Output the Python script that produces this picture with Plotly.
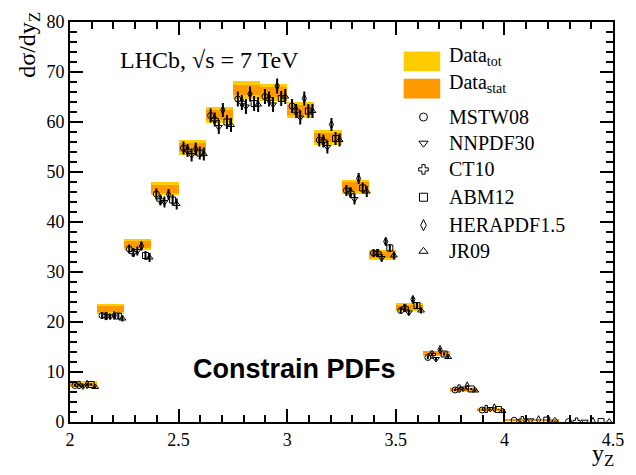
import plotly.graph_objects as go

# Z boson rapidity bins
bin_edges = [2.0, 2.125, 2.25, 2.375, 2.5, 2.625, 2.75, 2.875, 3.0, 3.125,
             3.25, 3.375, 3.5, 3.625, 3.75, 3.875, 4.0, 4.25, 4.5]

# Measured dσ/dy (pb) with statistical and total uncertainties
data_val = [7.6, 22.7, 35.5, 46.7, 55.0, 61.4, 66.4, 66.0, 62.5, 56.9,
            47.1, 33.4, 23.0, 13.8, 6.5, 2.5, 0.40, None]
data_stat = [0.30, 0.60, 0.70, 0.80, 0.90, 1.00, 1.05, 1.00, 1.00, 0.90,
             0.85, 0.65, 0.50, 0.35, 0.25, 0.15, 0.07, None]
data_tot = [0.55, 1.00, 1.10, 1.30, 1.50, 1.65, 1.80, 1.70, 1.60, 1.50,
            1.40, 1.00, 0.80, 0.50, 0.40, 0.25, 0.10, None]

# Theory predictions for several PDF sets
mstw08 = [7.3, 21.3, 34.6, 45.6, 54.8, 61.3, 64.6, 65.1, 63.2, 56.4,
          46.3, 33.8, 22.3, 12.9, 6.4, 2.4, 0.35, 0.08]
ct10 = [7.4, 21.2, 33.9, 44.4, 54.3, 60.5, 63.9, 64.6, 62.2, 56.2,
        45.9, 33.8, 22.8, 13.5, 6.7, 2.6, 0.38, 0.09]
nnpdf30 = [7.1, 21.1, 34.2, 44.0, 53.4, 59.0, 63.1, 63.5, 60.9, 55.0,
           44.6, 32.8, 21.9, 12.6, 6.7, 2.6, 0.33, 0.07]
herapdf15 = [7.5, 21.3, 35.2, 45.5, 54.6, 62.4, 65.6, 67.2, 64.7, 59.5,
             48.7, 36.1, 24.5, 14.5, 7.2, 2.8, 0.42, 0.10]
abm12 = [7.5, 21.2, 33.3, 44.4, 53.8, 60.0, 63.7, 64.7, 62.2, 56.7,
         46.8, 34.8, 23.3, 13.6, 6.6, 2.5, 0.38, 0.08]
jr09 = [7.0, 20.7, 32.9, 43.6, 53.6, 59.4, 63.5, 65.1, 62.2, 56.4,
        46.1, 33.3, 22.3, 13.0, 6.3, 2.2, 0.33, 0.06]
theory_unc = [0.25, 0.6, 0.9, 1.1, 1.3, 1.4, 1.5, 1.5, 1.4, 1.3,
              1.1, 0.8, 0.6, 0.35, 0.2, 0.08, 0.02, 0.01]

x_ticks = [2, 2.5, 3, 3.5, 4, 4.5]
x_tick_text = ["2", "2.5", "3", "3.5", "4", "4.5"]
y_ticks = [0, 10, 20, 30, 40, 50, 60, 70, 80]

YELLOW = "#ffcc00"
ORANGE = "#ff9900"
SERIF = "Liberation Serif, Times New Roman, serif"

# (values, symbol, legend label) in the order they sit inside each bin
models = [
    (mstw08, "circle-open", "MSTW08"),
    (ct10, "cross-open", "CT10"),
    (nnpdf30, "triangle-down-open", "NNPDF30"),
    (herapdf15, "diamond-tall-open", "HERAPDF1.5"),
    (abm12, "square-open", "ABM12"),
    (jr09, "triangle-up-open", "JR09"),
]
legend_order = ["MSTW08", "NNPDF30", "CT10", "ABM12", "HERAPDF1.5", "JR09"]

lo = bin_edges[:-1]
hi = bin_edges[1:]
centers = [(a + b) / 2 for a, b in zip(lo, hi)]
widths = [b - a for a, b in zip(lo, hi)]

fig = go.Figure()

# data bands: total (yellow) then statistical (orange) on top
for err, col in ((data_tot, YELLOW), (data_stat, ORANGE)):
    xs, ws, bases, hs = [], [], [], []
    for c, w, v, e in zip(centers, widths, data_val, err):
        if v is None:
            continue
        xs.append(c)
        ws.append(w)
        bases.append(v - e)
        hs.append(2 * e)
    fig.add_trace(go.Bar(x=xs, y=hs, base=bases, width=ws,
                         marker=dict(color=col, line=dict(width=0)),
                         showlegend=False, hoverinfo="skip"))

# theory points, spread across each bin
for i, (vals, sym, name) in enumerate(models):
    frac = 0.18 + 0.15 * i
    xs = [a + frac * w for a, w in zip(lo, widths)]
    fig.add_trace(go.Scatter(
        x=xs, y=vals, mode="markers", name=name, showlegend=False,
        marker=dict(symbol=sym, size=6, color="black",
                    line=dict(width=1, color="black")),
        error_y=dict(type="data", array=theory_unc, visible=True,
                     thickness=2, width=0, color="black"),
    ))

# legend drawn in an overlay frame spanning the plot area
leg_x_box0, leg_x_box1 = 0.6145, 0.6818
leg_x_text = 0.694
leg_x_mark = 0.651
box_rows = [(0.877, 0.926, YELLOW, "Data<sub>tot</sub>"),
            (0.809, 0.858, ORANGE, "Data<sub>stat</sub>")]
for y0, y1, col, label in box_rows:
    fig.add_shape(type="rect", xref="paper", yref="paper",
                  x0=leg_x_box0, x1=leg_x_box1, y0=y0, y1=y1,
                  fillcolor=col, line=dict(width=0), layer="above")
    fig.add_annotation(x=leg_x_text, y=(y0 + y1) / 2 + 0.012,
                       xref="paper", yref="paper",
                       text=label, showarrow=False, xanchor="left", yanchor="middle",
                       font=dict(family=SERIF, size=20, color="black"))

marker_rows = [0.7624, 0.697, 0.6315, 0.5619, 0.4921, 0.4268]
sym_by_name = {name: sym for _, sym, name in models}
for yy, name in zip(marker_rows, legend_order):
    fig.add_trace(go.Scatter(
        x=[leg_x_mark], y=[yy], xaxis="x2", yaxis="y2", mode="markers",
        showlegend=False, hoverinfo="skip", cliponaxis=False,
        marker=dict(symbol=sym_by_name[name], size=8, color="black",
                    line=dict(width=1, color="black"))))
    fig.add_annotation(x=leg_x_text, y=yy, xref="paper", yref="paper",
                       text=name, showarrow=False, xanchor="left", yanchor="middle",
                       font=dict(family=SERIF, size=20, color="black"))

# labels on the plot
fig.add_annotation(x=0.088, y=0.905, xref="paper", yref="paper",
                   text="LHCb, √s = 7 TeV", showarrow=False,
                   xanchor="left", yanchor="middle",
                   font=dict(family=SERIF, size=24, color="black"))
fig.add_annotation(x=0.413, y=0.132, xref="paper", yref="paper",
                   text="<b>Constrain PDFs</b>", showarrow=False,
                   xanchor="center", yanchor="middle",
                   font=dict(family="Liberation Sans", size=27, color="black"))

# axis titles at the axis ends
fig.add_annotation(x=-0.076, y=1.03, xref="paper", yref="paper",
                   text="dσ/dy<sub>Z</sub>", showarrow=False, textangle=-90,
                   xanchor="center", yanchor="top",
                   font=dict(family=SERIF, size=24, color="black"))
fig.add_annotation(x=1.005, y=-0.04, xref="paper", yref="paper",
                   text="y<sub>Z</sub>", showarrow=False,
                   xanchor="right", yanchor="top",
                   font=dict(family=SERIF, size=24, color="black"))

axis_common = dict(
    showline=True, linecolor="black", linewidth=2, mirror="allticks",
    ticks="inside", tickcolor="black", tickwidth=1.5, ticklen=13,
    showgrid=False, zeroline=False,
    tickfont=dict(family=SERIF, size=18, color="black"),
)

fig.update_layout(
    width=636, height=475,
    margin=dict(l=70, r=16, t=15, b=53),
    font=dict(family=SERIF, color="black"),
    paper_bgcolor="white", plot_bgcolor="white",
    barmode="overlay", bargap=0,
    showlegend=False,
    xaxis=dict(range=[2, 4.5], tickvals=x_ticks, ticktext=x_tick_text,
               minor=dict(dtick=0.1, ticks="inside", ticklen=7,
                          tickcolor="black", tickwidth=1.5, showgrid=False),
               **axis_common),
    yaxis=dict(range=[0, 80], tickvals=y_ticks,
               minor=dict(dtick=2, ticks="inside", ticklen=7,
                          tickcolor="black", tickwidth=1.5, showgrid=False),
               **axis_common),
    xaxis2=dict(overlaying="x", range=[0, 1], visible=False, fixedrange=True),
    yaxis2=dict(overlaying="y", range=[0, 1], visible=False, fixedrange=True),
)

fig.write_html("out.html")
